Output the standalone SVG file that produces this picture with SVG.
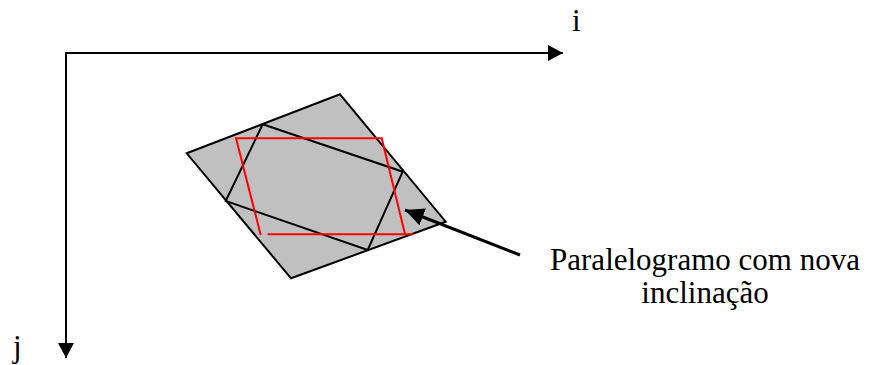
<svg xmlns="http://www.w3.org/2000/svg" width="871" height="365" viewBox="0 0 871 365">
<style>
.ln{fill:none;stroke:#000;stroke-width:2}
.red{fill:none;stroke:#ff0000;stroke-width:2}
.t{font-family:"Liberation Serif","Times New Roman",serif;font-size:31px;fill:#000}
</style>
<defs>
<marker id="ah" markerWidth="16" markerHeight="16" refX="15" refY="8" orient="auto" markerUnits="userSpaceOnUse">
<path d="M0,0 L15,8 L0,16 Z" fill="#000"/>
</marker>
<marker id="ah2" markerWidth="20" markerHeight="18" refX="19" refY="9" orient="auto" markerUnits="userSpaceOnUse">
<path d="M0,0 L19,9 L0,18 Z" fill="#000"/>
</marker>
</defs>
<rect width="871" height="365" fill="#fff"/>
<g id="shape">
<polygon points="340,94.3 445.7,221.7 291,278.3 186.7,153.3" fill="#c0c0c0" stroke="#000" stroke-width="2"/>
<polygon class="ln" points="262.7,124.3 402.7,171.7 367.7,250 225.7,201"/>
<polyline class="red" points="260.7,235 236,138.3 381.7,138.3 405,234.3"/>
<line class="red" x1="267.7" y1="234.3" x2="413.3" y2="234.3"/>
</g>
<g id="connectors">
<line class="ln" x1="66" y1="53" x2="563" y2="53" marker-end="url(#ah)"/>
<line class="ln" x1="66" y1="52" x2="66" y2="358" marker-end="url(#ah)"/>
<line x1="520" y1="255" x2="405" y2="210" stroke="#000" stroke-width="3" marker-end="url(#ah2)"/>
</g>
<g id="labels">
<text class="t" x="572" y="31">i</text>
<text class="t" x="13" y="357">j</text>
<text class="t" x="705" y="270" text-anchor="middle">Paralelogramo com nova</text>
<text class="t" x="705" y="303" text-anchor="middle">inclinação</text>
</g>
</svg>
